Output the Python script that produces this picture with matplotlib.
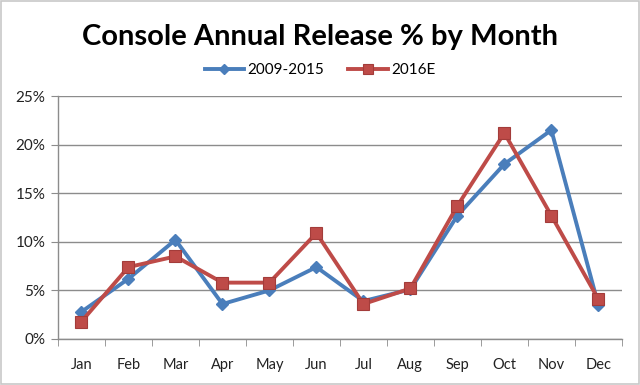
import matplotlib
matplotlib.use("Agg")
import matplotlib.pyplot as plt
from matplotlib.ticker import FixedLocator, FuncFormatter
from matplotlib.patches import Rectangle

months = ["Jan", "Feb", "Mar", "Apr", "May", "Jun", "Jul", "Aug", "Sep", "Oct", "Nov", "Dec"]
series_2009_2015 = [2.8, 6.2, 10.2, 3.6, 5.0, 7.4, 3.9, 5.1, 12.7, 18.0, 21.5, 3.5]
series_2016e = [1.8, 7.4, 8.5, 5.8, 5.8, 10.9, 3.6, 5.2, 13.7, 21.2, 12.7, 4.1]
yticks = [0, 5, 10, 15, 20, 25]

plt.rcParams['font.family'] = ['Lato', 'DejaVu Sans']

fig = plt.figure(figsize=(6.4, 3.85), dpi=100)
ax = fig.add_axes([0.0906, 0.1195, 0.881, 0.631])

x = list(range(len(months)))
blue = "#4A7EBB"
red = "#BE4B48"
ax.plot(x, series_2009_2015, color=blue, lw=2.8, marker="D", ms=6.5,
        mfc=blue, mec=blue, label="2009-2015", zorder=3)
ax.plot(x, series_2016e, color=red, lw=2.8, marker="s", ms=9,
        mfc=red, mec="#A33C3A", mew=0.8, label="2016E", zorder=4)

ax.set_xlim(-0.5, 11.5)
ax.set_ylim(0, 25)
ax.set_yticks(yticks)
ax.yaxis.set_major_formatter(FuncFormatter(lambda v, p: f"{int(v)}%"))
ax.yaxis.grid(True, color="#8C8C8C", lw=1)
ax.set_axisbelow(True)
ax.set_xticks(x)
ax.set_xticklabels(months)
ax.xaxis.set_minor_locator(FixedLocator([i - 0.5 for i in range(13)]))
ax.tick_params(axis="x", which="major", length=0, pad=14, labelsize=10.5, labelcolor="#222222")
ax.tick_params(axis="x", which="minor", length=5, color="#8C8C8C", direction="out")
ax.tick_params(axis="y", length=5, color="#8C8C8C", labelsize=11, labelcolor="#222222", pad=4)

for s in ["top", "right"]:
    ax.spines[s].set_visible(False)
for s in ["left", "bottom"]:
    ax.spines[s].set_color("#8C8C8C")
    ax.spines[s].set_linewidth(1)

fig.text(0.5, 0.905, "Console Annual Release % by Month", ha="center", va="center",
         fontsize=21, fontweight="bold", color="#000000")
leg = fig.legend(loc="center", bbox_to_anchor=(0.5, 0.818), ncol=2, frameon=False,
                 fontsize=11, handlelength=2.6, columnspacing=1.6, handletextpad=0.2,
                 markerscale=0.8)

fig.patches.append(Rectangle((0.002, 0.003), 0.996, 0.994, transform=fig.transFigure,
                             fill=False, edgecolor="#C8C8C8", lw=1.2))

fig.savefig("out.png", dpi=100)
